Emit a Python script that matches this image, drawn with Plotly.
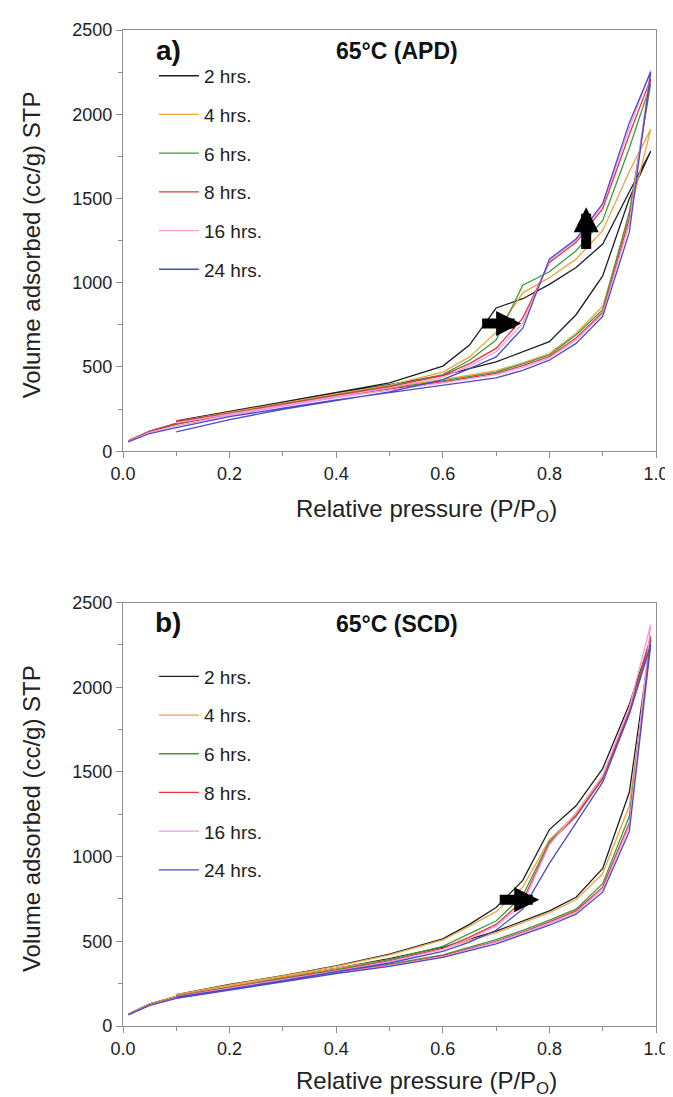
import plotly.graph_objects as go

# ---------------- data ----------------
P_ADS = [0.01, 0.05, 0.1, 0.2, 0.3, 0.4, 0.5, 0.6, 0.7, 0.75, 0.8, 0.85, 0.9, 0.95, 0.99]
P_DES = [0.95, 0.9, 0.85, 0.8, 0.75, 0.7, 0.65, 0.6, 0.5, 0.4, 0.3, 0.2, 0.1]

SERIES = ["2 hrs.", "4 hrs.", "6 hrs.", "8 hrs.", "16 hrs.", "24 hrs."]
COLORS = ["#1e1e1e", "#eba443", "#3e9b3e", "#e2373f", "#ee9be0", "#4b4bc8"]

# Panel a) 65°C (APD) — adsorption branch (values at P_ADS)
A_ADS_2 = [62, 120, 165, 232, 290, 345, 395, 450, 530, 590, 650, 810, 1040, 1500, 1780]
A_ADS_4 = [60, 118, 162, 226, 282, 335, 380, 425, 478, 525, 580, 700, 860, 1400, 1910]
A_ADS_6 = [60, 117, 160, 222, 278, 330, 374, 418, 470, 518, 572, 690, 840, 1420, 2180]
A_ADS_8 = [62, 118, 162, 220, 275, 326, 370, 412, 462, 508, 562, 672, 825, 1380, 2210]
A_ADS_16 = [58, 112, 150, 212, 266, 318, 362, 405, 455, 498, 552, 660, 815, 1350, 2260]
A_ADS_24 = [55, 105, 140, 205, 255, 305, 348, 390, 435, 480, 540, 640, 800, 1300, 2250]
# Panel a) desorption branch (values at P_DES)
A_DES_2 = [1540, 1230, 1090, 990, 905, 850, 630, 505, 405, 348, 292, 236, 180]
A_DES_4 = [1660, 1310, 1140, 1030, 940, 705, 560, 470, 392, 340, 286, 230, 176]
A_DES_6 = [1800, 1370, 1190, 1065, 985, 660, 540, 455, 386, 335, 282, 226, 172]
A_DES_8 = [1880, 1440, 1240, 1120, 790, 610, 520, 450, 382, 332, 280, 225, 178]
A_DES_16 = [1920, 1460, 1250, 1130, 760, 590, 505, 440, 376, 325, 272, 218, 168]
A_DES_24 = [1950, 1470, 1260, 1140, 730, 560, 490, 425, 352, 298, 248, 188, 115]

# Panel b) 65°C (SCD) — adsorption branch
B_ADS_2 = [70, 130, 175, 235, 290, 340, 398, 465, 560, 620, 680, 760, 930, 1380, 2280]
B_ADS_4 = [70, 130, 175, 235, 290, 340, 392, 458, 550, 610, 670, 745, 900, 1300, 2250]
B_ADS_6 = [68, 125, 168, 222, 275, 322, 365, 420, 510, 565, 625, 690, 840, 1240, 2270]
B_ADS_8 = [68, 125, 168, 220, 272, 318, 360, 415, 500, 555, 615, 680, 820, 1200, 2300]
B_ADS_16 = [67, 123, 165, 216, 268, 314, 356, 410, 495, 548, 605, 670, 805, 1180, 2370]
B_ADS_24 = [66, 122, 163, 212, 263, 310, 352, 405, 485, 538, 595, 660, 790, 1150, 2250]
# Panel b) desorption branch
B_DES_2 = [1900, 1520, 1300, 1160, 860, 700, 600, 515, 425, 355, 298, 245, 185]
B_DES_4 = [1860, 1470, 1250, 1100, 820, 675, 590, 508, 420, 352, 296, 243, 185]
B_DES_6 = [1850, 1460, 1240, 1090, 770, 620, 545, 470, 392, 332, 282, 230, 175]
B_DES_8 = [1860, 1460, 1240, 1080, 740, 600, 525, 458, 385, 328, 278, 226, 175]
B_DES_16 = [1880, 1480, 1260, 1070, 720, 590, 515, 452, 380, 324, 274, 222, 172]
B_DES_24 = [1840, 1440, 1200, 960, 690, 565, 495, 440, 372, 318, 268, 218, 170]

A_ADS = [A_ADS_2, A_ADS_4, A_ADS_6, A_ADS_8, A_ADS_16, A_ADS_24]
A_DES = [A_DES_2, A_DES_4, A_DES_6, A_DES_8, A_DES_16, A_DES_24]
B_ADS = [B_ADS_2, B_ADS_4, B_ADS_6, B_ADS_8, B_ADS_16, B_ADS_24]
B_DES = [B_DES_2, B_DES_4, B_DES_6, B_DES_8, B_DES_16, B_DES_24]

X_TICKS = [0.0, 0.2, 0.4, 0.6, 0.8, 1.0]
Y_TICKS = [0, 500, 1000, 1500, 2000, 2500]

FONT = "Liberation Sans, Arial, sans-serif"

fig = go.Figure()

panels = [
    ("x", "y", "legend", A_ADS, A_DES),
    ("x2", "y2", "legend2", B_ADS, B_DES),
]
for xa, ya, lg, ads, des in panels:
    for i, name in enumerate(SERIES):
        fig.add_trace(go.Scatter(
            x=P_ADS + P_DES, y=ads[i] + des[i],
            mode="lines", name=name,
            line=dict(color=COLORS[i], width=1.3),
            xaxis=xa, yaxis=ya, legend=lg,
            legendgroup=lg + str(i),
            hoverinfo="skip",
        ))

axis_common = dict(
    showline=True, linecolor="#8f8f8f", linewidth=1.4, mirror=True,
    ticks="outside", ticklen=6, tickwidth=1.2, tickcolor="#8f8f8f",
    showgrid=False, zeroline=False,
    tickfont=dict(family=FONT, size=18, color="#222"),
)
xcommon = dict(axis_common, range=[0, 1.0], tickvals=X_TICKS, tickformat=".1f",
               minor=dict(dtick=0.1, ticklen=4, tickcolor="#8f8f8f", ticks="outside"))
ycommon = dict(axis_common, range=[0, 2500], tickvals=Y_TICKS,
               minor=dict(dtick=250, ticklen=4, tickcolor="#8f8f8f", ticks="outside"))

TOP_DOM = [0.5771, 1.0]
BOT_DOM = [0.0, 0.4251]

legend_common = dict(xanchor="left", yanchor="top", bgcolor="rgba(0,0,0,0)",
                     font=dict(family=FONT, size=19, color="#222"),
                     tracegroupgap=11, itemwidth=40)

fig.update_layout(
    width=673, height=1097,
    margin=dict(l=115, r=16, t=19, b=79),
    paper_bgcolor="white", plot_bgcolor="white",
    font=dict(family=FONT, color="#222"),
    xaxis=dict(xcommon, domain=[0, 1], anchor="y"),
    yaxis=dict(ycommon, domain=TOP_DOM, anchor="x"),
    xaxis2=dict(xcommon, domain=[0, 1], anchor="y2"),
    yaxis2=dict(ycommon, domain=BOT_DOM, anchor="x2"),
    legend=dict(legend_common, x=0.058, y=0.973),
    legend2=dict(legend_common, x=0.058, y=0.370),
    showlegend=True,
)

annotations = []
for xr, yr, lab, ttl, xt_y in [("x domain", "y domain", "a)", "65°C (APD)", -0.141),
                               ("x2 domain", "y2 domain", "b)", "65°C (SCD)", -0.133)]:
    base = dict(xref=xr, yref=yr, showarrow=False, xanchor="center", yanchor="middle")
    annotations.append(dict(base, x=0.085, y=0.952, text="<b>" + lab + "</b>",
                            font=dict(family=FONT, size=28, color="#111")))
    annotations.append(dict(base, x=0.515, y=0.950, text="<b>" + ttl + "</b>",
                            font=dict(family=FONT, size=23, color="#111")))
    annotations.append(dict(base, x=0.570, y=xt_y,
                            text="Relative pressure (P/P<sub>O</sub>)",
                            font=dict(family=FONT, size=24, color="#222")))
    annotations.append(dict(base, x=-0.1716, y=0.49, textangle=-90,
                            text="Volume adsorbed (cc/g) STP",
                            font=dict(family=FONT, size=24, color="#222")))

# thick black arrows
ARROWS = [
    ("x", "y", 0.671, 758, 0.747, 758),
    ("x", "y", 0.869, 1192, 0.869, 1448),
    ("x2", "y2", 0.704, 745, 0.781, 745),
]
for xr, yr, x0, y0, x1, y1 in ARROWS:
    annotations.append(dict(xref=xr, yref=yr, axref=xr, ayref=yr,
                            x=x1, y=y1, ax=x0, ay=y0, text="",
                            showarrow=True, arrowhead=2, arrowsize=0.5,
                            arrowwidth=10, arrowcolor="#000", standoff=0))
fig.update_layout(annotations=annotations)

fig.write_html("out.html")
